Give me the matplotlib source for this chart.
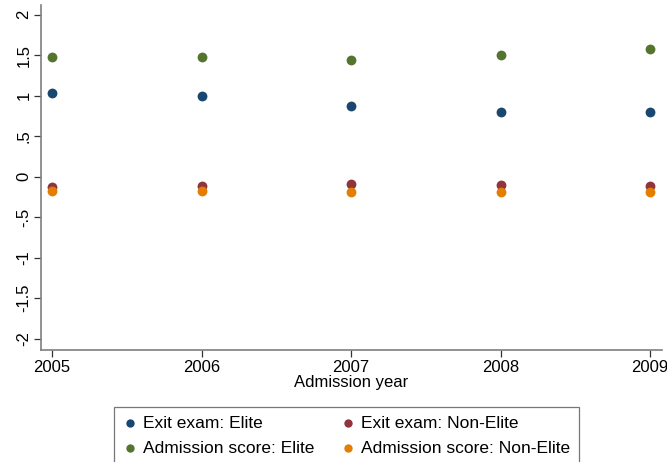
import matplotlib
matplotlib.use("Agg")
import matplotlib.pyplot as plt

plt.rcParams["font.family"] = ["Liberation Sans", "DejaVu Sans"]

years = [2005, 2006, 2007, 2008, 2009]
exit_elite = [1.037, 0.995, 0.877, 0.80, 0.80]
exit_nonelite = [-0.128, -0.12, -0.095, -0.103, -0.115]
adm_elite = [1.472, 1.472, 1.447, 1.497, 1.58]
adm_nonelite = [-0.18, -0.18, -0.185, -0.185, -0.19]

series = [
    ("Exit exam: Elite", exit_elite, "#1a476f"),
    ("Admission score: Elite", adm_elite, "#55752f"),
    ("Exit exam: Non-Elite", exit_nonelite, "#90353b"),
    ("Admission score: Non-Elite", adm_nonelite, "#e37e00"),
]

yticks = [-2, -1.5, -1, -0.5, 0, 0.5, 1, 1.5, 2]
ytick_labels = ["-2", "-1.5", "-1", "-.5", "0", ".5", "1", "1.5", "2"]

fs = 12

fig = plt.figure(figsize=(6.67, 4.62), dpi=100)
ax = fig.add_axes([41 / 667, 1 - 350 / 462, 621 / 667, 345 / 462])

for label, vals, color in series:
    ax.scatter(years, vals, s=50, color=color, label=label, zorder=3, linewidths=0)

ax.set_xlim(2004.926, 2009.08)
ax.set_ylim(-2.14, 2.12)
ax.set_xticks(years)
ax.set_xticklabels([str(y) for y in years], fontsize=fs)
ax.set_yticks(yticks)
ax.set_yticklabels(ytick_labels, fontsize=fs, rotation=90, va="center")
ax.set_xlabel("Admission year", fontsize=fs, labelpad=0)

for side in ["top", "right"]:
    ax.spines[side].set_visible(False)
for side in ["left", "bottom"]:
    ax.spines[side].set_color("#7f7f7f")
    ax.spines[side].set_linewidth(1.2)
ax.tick_params(axis="both", color="#333333", length=5, width=0.9, pad=2)

# legend box runs off the bottom edge like in the original
leg = fig.legend(
    loc="upper left",
    bbox_to_anchor=(114 / 667, 1 - 407 / 462),
    borderaxespad=0,
    ncol=2,
    fontsize=12.5,
    frameon=True,
    fancybox=False,
    edgecolor="#555555",
    handletextpad=0.35,
    columnspacing=1.55,
    labelspacing=0.58,
    borderpad=0.5,
    handlelength=0.8,
    markerscale=0.85,
)
leg.get_frame().set_linewidth(0.9)

plt.savefig("out.png", dpi=100)
plt.close()
